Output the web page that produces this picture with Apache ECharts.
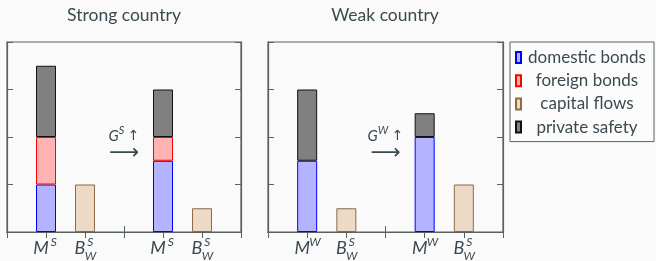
<!DOCTYPE html>
<html>
<head>
<meta charset="utf-8">
<script src="https://cdn.jsdelivr.net/npm/echarts@6/dist/echarts.min.js"></script>
<style>
  html, body { margin: 0; padding: 0; background: #fafafa; }
  #chart { width: 656px; height: 261px; }
</style>
</head>
<body>
<div id="chart"></div>
<script>
// slots along the x axis (0..6); bars sit on 1,2 and 4,5, value scale 0..4
var slots = ['0', '1', '2', '3', '4', '5', '6'];
var mPos = [1, 4];
var bPos = [2, 5];

// strong country
var strongDomestic = [1, 1.5];
var strongForeign = [1, 0.5];
var strongSafety = [1.5, 1];
var strongFlows = [1, 0.5];

// weak country
var weakDomestic = [1.5, 2];
var weakSafety = [1.5, 0.5];
var weakFlows = [0.5, 1];

// tick labels: [main, superscript, subscript]
var strongLabels = {1: ['M', 'S', ''], 2: ['B', 'S', 'W'], 4: ['M', 'S', ''], 5: ['B', 'S', 'W']};
var weakLabels = {1: ['M', 'W', ''], 2: ['B', 'S', 'W'], 4: ['M', 'W', ''], 5: ['B', 'S', 'W']};
var arrowLabels = ['S', 'W'];

var txt = '#3b4a50';
var frame = '#58625f';
var font = 'Lato';

// spread values onto the slots, '-' where there is no bar
function spread(pos, vals) {
  var out = slots.map(function () { return '-'; });
  pos.forEach(function (p, i) { out[p] = vals[i]; });
  return out;
}

function labelFmt(map) {
  return function (v, idx) {
    var l = map[idx];
    if (!l) return '';
    if (!l[2]) return '{it|' + l[0] + '}{sup|' + l[1] + '}';
    return '{it|' + l[0] + '}{sup|' + l[1] + '}\n{gh|' + l[0] + '}{sub|' + l[2] + '}';
  };
}

var labelRich = {
  it: {fontSize: 18, fontStyle: 'italic', fontFamily: font, color: txt, lineHeight: 16},
  gh: {fontSize: 18, fontStyle: 'italic', fontFamily: font, color: 'rgba(0,0,0,0)', lineHeight: 1, height: 1},
  sup: {fontSize: 12, fontStyle: 'italic', fontFamily: font, color: txt, height: 4, verticalAlign: 'top', width: 10},
  sub: {fontSize: 12, fontStyle: 'italic', fontFamily: font, color: txt, lineHeight: 1, height: 1, width: 10}
};

var tick = {show: true, inside: true, length: 6, lineStyle: {color: frame, width: 1}};
var line = {show: true, lineStyle: {color: frame, width: 1.2}};

function xAxes(grid, map) {
  return [
    {gridIndex: grid, type: 'category', data: slots, boundaryGap: false, position: 'bottom',
      axisLine: line, splitLine: {show: false}, axisTick: tick,
      axisLabel: {margin: 8, interval: 0, formatter: labelFmt(map), rich: labelRich}},
    {gridIndex: grid, type: 'category', data: slots, boundaryGap: false, position: 'top',
      axisLine: line, splitLine: {show: false}, axisTick: tick,
      axisLabel: {show: false}}
  ];
}

function yAxes(grid) {
  return ['left', 'right'].map(function (side) {
    return {gridIndex: grid, type: 'value', min: 0, max: 4, interval: 1, position: side,
      axisLine: line, splitLine: {show: false}, axisTick: tick,
      axisLabel: {show: false}};
  });
}

var styles = {
  'domestic bonds': {color: '#b3b3ff', borderColor: '#0000ff', borderWidth: 1},
  'foreign bonds': {color: '#ffb3b3', borderColor: '#ff0000', borderWidth: 1},
  'capital flows': {color: '#ecd9c6', borderColor: '#8f6a45', borderWidth: 1},
  'private safety': {color: '#808080', borderColor: '#111111', borderWidth: 1}
};

function bar(name, axis, pos, vals, extra) {
  var s = {
    name: name, type: 'bar', xAxisIndex: axis, yAxisIndex: axis,
    stack: 'all' + axis, barWidth: 20,
    itemStyle: styles[name], data: spread(pos, vals)
  };
  if (extra) s.markPoint = extra;
  return s;
}

function arrowMark(letter) {
  return {
    symbolSize: 0, silent: true,
    label: {show: true, position: 'inside'},
    data: [
      {coord: ['3', 2.02], label: {formatter: '{g|G}{s|' + letter + '} {u|↑}',
        rich: {
          g: {fontSize: 15, fontStyle: 'italic', fontFamily: font, color: txt, lineHeight: 16},
          s: {fontSize: 11, fontStyle: 'italic', fontFamily: font, color: txt, verticalAlign: 'top', height: 4},
          u: {fontSize: 14, fontFamily: 'DejaVu Sans', color: txt, lineHeight: 16}
        }}},
      {coord: ['3', 1.66], label: {formatter: '⟶', fontSize: 21, fontFamily: 'DejaVu Sans', color: txt}}
    ]
  };
}

var chart = echarts.init(document.getElementById('chart'));

var option = {
  backgroundColor: '#fafafa',
  animation: false,
  title: [
    {text: 'Strong country', left: 124, top: 6, padding: 0, textAlign: 'center',
      textStyle: {fontSize: 17.5, fontWeight: 'normal', fontFamily: font, color: txt}},
    {text: 'Weak country', left: 385, top: 6, padding: 0, textAlign: 'center',
      textStyle: {fontSize: 17.5, fontWeight: 'normal', fontFamily: font, color: txt}}
  ],
  grid: [
    {left: 7, top: 42, width: 234, height: 190, outerBoundsMode: 'none', containLabel: false,
      show: true, borderColor: frame, borderWidth: 1.2, backgroundColor: 'transparent'},
    {left: 268, top: 42, width: 235, height: 190, outerBoundsMode: 'none', containLabel: false,
      show: true, borderColor: frame, borderWidth: 1.2, backgroundColor: 'transparent'}
  ],
  xAxis: xAxes(0, strongLabels).concat(xAxes(1, weakLabels)),
  yAxis: yAxes(0).concat(yAxes(1)),
  legend: {
    orient: 'vertical', left: 510, top: 42,
    data: ['domestic bonds', 'foreign bonds', 'capital flows', 'private safety'],
    icon: 'rect', itemWidth: 5, itemHeight: 11, itemGap: 6.2,
    padding: [7, 6, 6, 5],
    borderColor: frame, borderWidth: 1, backgroundColor: '#fcfcfc',
    formatter: function (name) { return '{c|' + name + '}'; },
    textStyle: {rich: {c: {width: 122, align: 'center', fontSize: 17, fontFamily: font, color: txt, lineHeight: 18}}}
  },
  series: [
    bar('domestic bonds', 0, mPos, strongDomestic, arrowMark(arrowLabels[0])),
    bar('foreign bonds', 0, mPos, strongForeign),
    bar('private safety', 0, mPos, strongSafety),
    bar('capital flows', 0, bPos, strongFlows),
    bar('domestic bonds', 2, mPos, weakDomestic, arrowMark(arrowLabels[1])),
    bar('private safety', 2, mPos, weakSafety),
    bar('capital flows', 2, bPos, weakFlows)
  ]
};

chart.setOption(option);
</script>
</body>
</html>
